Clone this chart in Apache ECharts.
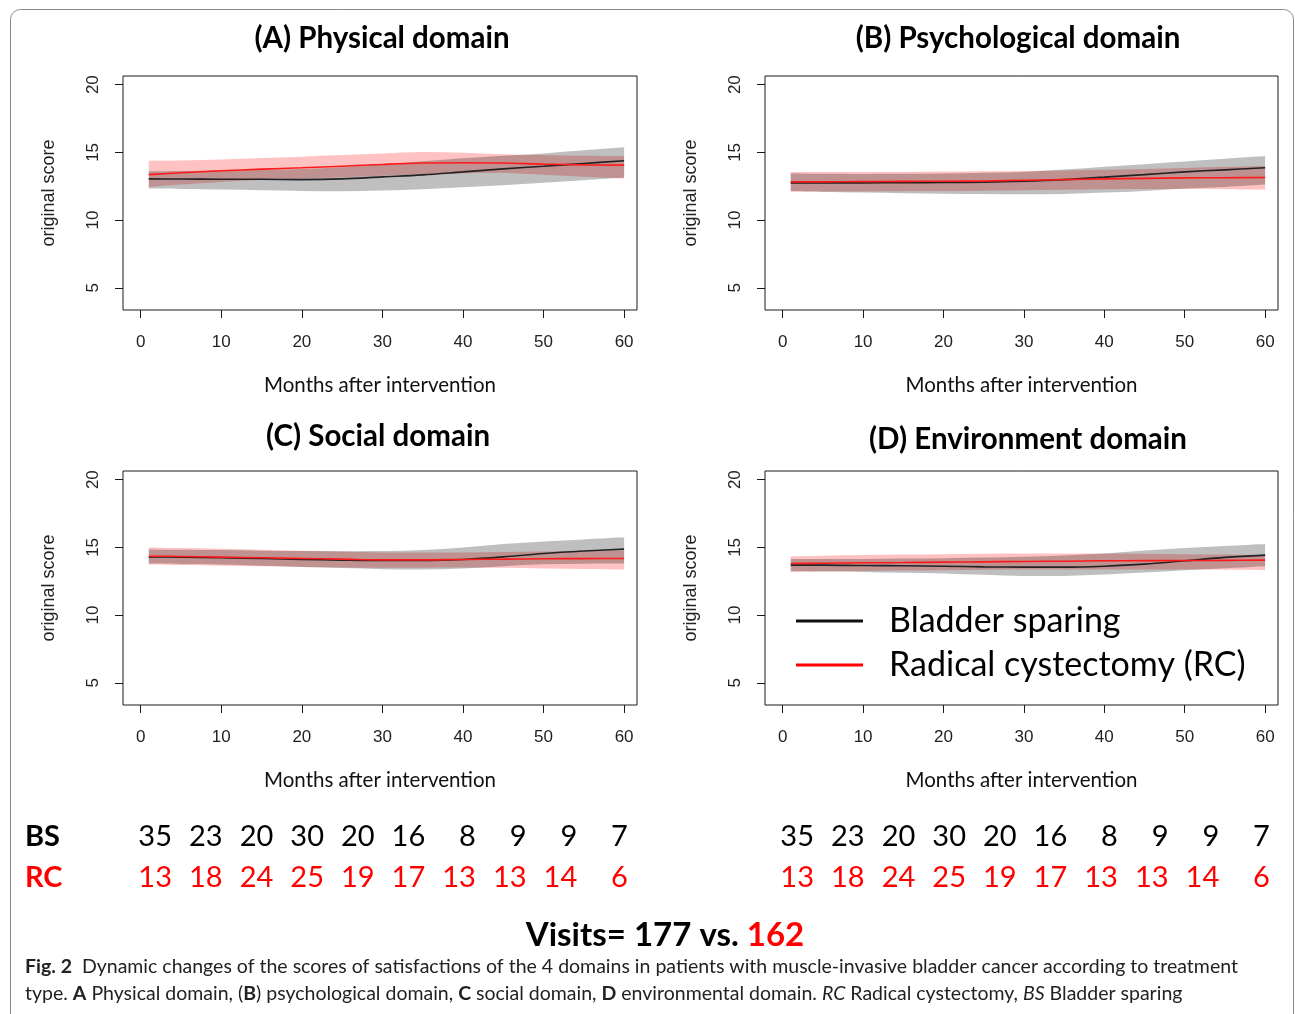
<!DOCTYPE html>
<html>
<head>
<meta charset="utf-8">
<script src="https://cdn.jsdelivr.net/npm/echarts@6/dist/echarts.min.js"></script>
<style>
html,body{margin:0;padding:0;background:#fff;}
#chart{width:1295px;height:1014px;}
</style>
</head>
<body>
<div id="chart"></div>
<script>
// ---------- data ----------
const months = [1, 5, 10, 15, 20, 25, 30, 35, 40, 45, 50, 55, 60];
const xTicks = [0, 10, 20, 30, 40, 50, 60];
const yTicks = [5, 10, 15, 20];

const panelTitles = ['(A) Physical domain', '(B) Psychological domain', '(C) Social domain', '(D) Environment domain'];
const seriesNames = ['Bladder sparing', 'Radical cystectomy (RC)'];

// (A) Physical
const bsA    = [13.04,13.03,13.02,13.01,12.99,13.04,13.19,13.34,13.56,13.78,13.98,14.18,14.38];
const bsA_lo = [12.33,12.30,12.25,12.20,12.15,12.13,12.18,12.28,12.42,12.57,12.75,12.94,13.14];
const bsA_hi = [13.60,13.62,13.66,13.72,13.78,13.90,14.12,14.35,14.56,14.75,14.92,15.15,15.37];
const rcA    = [13.36,13.49,13.64,13.76,13.86,13.98,14.11,14.21,14.23,14.21,14.13,14.08,14.06];
const rcA_lo = [12.45,12.62,12.82,12.96,13.06,13.16,13.27,13.38,13.45,13.47,13.35,13.20,13.07];
const rcA_hi = [14.38,14.40,14.48,14.58,14.68,14.80,14.92,15.02,14.97,14.87,14.80,14.75,14.73];

// (B) Psychological
const bsB    = [12.75,12.75,12.75,12.76,12.77,12.80,12.87,12.99,13.17,13.36,13.56,13.71,13.86];
const bsB_lo = [12.13,12.08,12.03,11.98,11.95,11.93,11.90,11.93,12.03,12.15,12.33,12.45,12.62];
const bsB_hi = [13.44,13.42,13.41,13.42,13.44,13.50,13.56,13.73,13.93,14.13,14.33,14.53,14.73];
const rcB    = [12.82,12.82,12.84,12.86,12.87,12.89,12.94,12.99,13.04,13.08,13.12,13.13,13.14];
const rcB_lo = [12.12,12.12,12.12,12.13,12.14,12.17,12.20,12.24,12.28,12.30,12.30,12.28,12.25];
const rcB_hi = [13.56,13.55,13.55,13.56,13.58,13.60,13.63,13.67,13.72,13.78,13.85,13.93,14.00];

// (C) Social
const bsC    = [14.30,14.28,14.23,14.18,14.11,14.06,14.03,14.03,14.11,14.30,14.55,14.73,14.87];
const bsC_lo = [13.81,13.78,13.74,13.65,13.56,13.47,13.39,13.36,13.44,13.61,13.75,13.80,13.81];
const bsC_hi = [14.85,14.82,14.80,14.76,14.73,14.72,14.73,14.80,15.00,15.25,15.44,15.59,15.74];
const rcC    = [14.35,14.33,14.28,14.23,14.18,14.13,14.08,14.08,14.11,14.13,14.16,14.17,14.18];
const rcC_lo = [13.74,13.70,13.65,13.60,13.56,13.52,13.49,13.50,13.52,13.49,13.44,13.40,13.36];
const rcC_hi = [15.00,14.95,14.90,14.83,14.76,14.70,14.63,14.62,14.63,14.66,14.70,14.73,14.76];

// (D) Environment
const bsD    = [13.69,13.69,13.66,13.64,13.61,13.56,13.54,13.54,13.61,13.76,14.01,14.26,14.43];
const bsD_lo = [13.24,13.22,13.19,13.13,13.07,12.97,12.89,12.89,12.99,13.14,13.31,13.46,13.61];
const bsD_hi = [14.15,14.15,14.15,14.17,14.20,14.25,14.30,14.40,14.55,14.77,14.95,15.10,15.25];
const rcD    = [13.81,13.83,13.86,13.88,13.91,13.93,13.96,13.98,14.01,14.02,14.03,14.04,14.06];
const rcD_lo = [13.19,13.23,13.26,13.29,13.31,13.34,13.36,13.37,13.37,13.37,13.36,13.34,13.31];
const rcD_hi = [14.35,14.39,14.43,14.47,14.50,14.53,14.55,14.55,14.55,14.53,14.50,14.47,14.43];

// number of visits per interval
const bsCounts = [35, 23, 20, 30, 20, 16, 8, 9, 9, 7];
const rcCounts = [13, 18, 24, 25, 19, 17, 13, 13, 14, 6];
const visitsBS = 177;
const visitsRC = 162;

// ---------- layout ----------
const panels = [
  {bs: bsA, bsLo: bsA_lo, bsHi: bsA_hi, rc: rcA, rcLo: rcA_lo, rcHi: rcA_hi},
  {bs: bsB, bsLo: bsB_lo, bsHi: bsB_hi, rc: rcB, rcLo: rcB_lo, rcHi: rcB_hi},
  {bs: bsC, bsLo: bsC_lo, bsHi: bsC_hi, rc: rcC, rcLo: rcC_lo, rcHi: rcC_hi},
  {bs: bsD, bsLo: bsD_lo, bsHi: bsD_hi, rc: rcD, rcLo: rcD_lo, rcHi: rcD_hi}
];
const gridPos = [
  {left: 123, top: 76, width: 514, height: 234},
  {left: 765, top: 76, width: 513, height: 234},
  {left: 123, top: 471, width: 514, height: 234},
  {left: 765, top: 471, width: 513, height: 234}
];
const titlePos = [[382, 38], [1018, 38], [378, 436], [1028, 439]];

const AX = '#1a1a1a';
const grids = [], xAxes = [], yAxes = [], series = [];

// smooth curve through pixel points (Catmull-Rom as cubic Bezier segments)
function curveCmds(pts) {
  let d = '';
  for (let i = 0; i < pts.length - 1; i++) {
    const p0 = pts[Math.max(i - 1, 0)], p1 = pts[i], p2 = pts[i + 1], p3 = pts[Math.min(i + 2, pts.length - 1)];
    const c1 = [p1[0] + (p2[0] - p0[0]) / 6, p1[1] + (p2[1] - p0[1]) / 6];
    const c2 = [p2[0] - (p3[0] - p1[0]) / 6, p2[1] - (p3[1] - p1[1]) / 6];
    d += ' C' + c1[0].toFixed(2) + ' ' + c1[1].toFixed(2) + ' ' + c2[0].toFixed(2) + ' ' + c2[1].toFixed(2) + ' ' + p2[0].toFixed(2) + ' ' + p2[1].toFixed(2);
  }
  return d;
}

function bandSeries(g, lo, hi, color) {
  return {
    type: 'custom', xAxisIndex: g, yAxisIndex: g, silent: true, z: 1,
    encode: {x: 0, y: [1, 2]},
    data: months.map((m, i) => [m, lo[i], hi[i]]),
    renderItem: function (params, api) {
      if (params.dataIndex !== 0) return null;
      const upper = months.map((m, i) => api.coord([m, hi[i]]));
      const lower = months.map((m, i) => api.coord([m, lo[i]])).reverse();
      const d = 'M' + upper[0][0].toFixed(2) + ' ' + upper[0][1].toFixed(2) + curveCmds(upper) +
        ' L' + lower[0][0].toFixed(2) + ' ' + lower[0][1].toFixed(2) + curveCmds(lower) + ' Z';
      return {type: 'path', shape: {pathData: d}, style: {fill: color, stroke: null}};
    }
  };
}

panels.forEach((p, g) => {
  grids.push(Object.assign({show: true, borderColor: AX, borderWidth: 1, backgroundColor: 'transparent'}, gridPos[g]));
  xAxes.push({
    gridIndex: g, type: 'value', min: -2.2, max: 61.6,
    splitLine: {show: false}, axisLine: {show: false, onZero: false},
    axisTick: {show: true, length: 8, customValues: xTicks, lineStyle: {color: AX}},
    axisLabel: {customValues: xTicks, margin: 24, fontSize: 17, color: '#222', fontFamily: 'Liberation Sans'},
    name: 'Months after intervention', nameLocation: 'middle', nameGap: 65,
    nameTextStyle: {fontSize: 20.5, fontFamily: 'Lato', color: '#111'}
  });
  yAxes.push({
    gridIndex: g, type: 'value', min: 3.36, max: 20.64,
    splitLine: {show: false}, axisLine: {show: false, onZero: false},
    axisTick: {show: true, length: 8, customValues: yTicks, lineStyle: {color: AX}},
    axisLabel: {customValues: yTicks, rotate: 90, margin: 21, fontSize: 17, color: '#222', fontFamily: 'Liberation Sans'},
    name: 'original score', nameLocation: 'middle', nameGap: 65, nameRotate: 90,
    nameTextStyle: {fontSize: 18, fontFamily: 'Liberation Sans', color: '#222'}
  });
  series.push(bandSeries(g, p.rcLo, p.rcHi, 'rgba(255,0,0,0.24)'));
  series.push(bandSeries(g, p.bsLo, p.bsHi, 'rgba(0,0,0,0.25)'));
  series.push({type: 'line', name: seriesNames[0], xAxisIndex: g, yAxisIndex: g, smooth: 0.35, symbol: 'none',
    silent: true, color: '#111', lineStyle: {color: '#222', width: 1.6}, data: months.map((m, i) => [m, p.bs[i]]), z: 3});
  series.push({type: 'line', name: seriesNames[1], xAxisIndex: g, yAxisIndex: g, smooth: 0.35, symbol: 'none',
    silent: true, color: '#ff0000', lineStyle: {color: '#ff1a1a', width: 1.6}, data: months.map((m, i) => [m, p.rc[i]]), z: 4});
});

// ---------- texts ----------
const graphics = [];
graphics.push({type: 'rect', shape: {x: 10.5, y: 9.5, width: 1283, height: 1020, r: 10},
  style: {fill: 'none', stroke: '#8a8a8a', lineWidth: 1}, silent: true});
panelTitles.forEach((t, i) => {
  graphics.push({type: 'text', x: titlePos[i][0], y: titlePos[i][1],
    style: {text: t, align: 'center', verticalAlign: 'middle', font: 'bold 29.5px Lato', fill: '#000'}});
});
// visit counts
const rowY = [837, 878];
graphics.push({type: 'text', x: 25, y: rowY[0], style: {text: 'BS', verticalAlign: 'middle', font: 'bold 29px Lato', fill: '#000'}});
graphics.push({type: 'text', x: 25, y: rowY[1], style: {text: 'RC', verticalAlign: 'middle', font: 'bold 29px Lato', fill: '#ff0000'}});
[172, 814].forEach(x0 => {
  bsCounts.forEach((v, i) => graphics.push({type: 'text', x: x0 + 50.65 * i, y: rowY[0],
    style: {text: String(v), align: 'right', verticalAlign: 'middle', font: '29px Lato', fill: '#000'}}));
  rcCounts.forEach((v, i) => graphics.push({type: 'text', x: x0 + 50.65 * i, y: rowY[1],
    style: {text: String(v), align: 'right', verticalAlign: 'middle', font: '29px Lato', fill: '#ff0000'}}));
});
graphics.push({type: 'text', x: 665, y: 935, style: {
  text: '{b|Visits= ' + visitsBS + ' vs. }{r|' + visitsRC + '}', align: 'center', verticalAlign: 'middle',
  rich: {b: {font: 'bold 33px Lato', fill: '#000'}, r: {font: 'bold 33px Lato', fill: '#ff0000'}}}});
// caption
const capRich = {
  n: {font: '19.5px Lato', fill: '#222'},
  b: {font: 'bold 19.5px Lato', fill: '#222'},
  i: {font: 'italic 19.5px Lato', fill: '#222'}
};
graphics.push({type: 'text', x: 25, y: 967, style: {verticalAlign: 'middle', rich: capRich,
  text: '{b|Fig. 2}{n|  Dynamic changes of the scores of satisfactions of the 4 domains in patients with muscle-invasive bladder cancer according to treatment}'}});
graphics.push({type: 'text', x: 25, y: 994, style: {verticalAlign: 'middle', rich: capRich,
  text: '{n|type. }{b|A}{n| Physical domain, (}{b|B}{n|) psychological domain, }{b|C}{n| social domain, }{b|D}{n| environmental domain. }{i|RC}{n| Radical cystectomy, }{i|BS}{n| Bladder sparing}'}});

const chart = echarts.init(document.getElementById('chart'), null, {renderer: 'canvas'});
chart.setOption({
  animation: false,
  backgroundColor: '#fff',
  grid: grids,
  xAxis: xAxes,
  yAxis: yAxes,
  legend: {
    data: seriesNames, orient: 'vertical', left: 791, top: 599, selectedMode: false,
    icon: 'rect', itemWidth: 67, itemHeight: 3, itemGap: 10,
    textStyle: {fontFamily: 'Lato', fontSize: 34, color: '#000', padding: [0, 0, 0, 21], lineHeight: 34}
  },
  series: series,
  graphic: graphics
});
</script>
</body>
</html>
